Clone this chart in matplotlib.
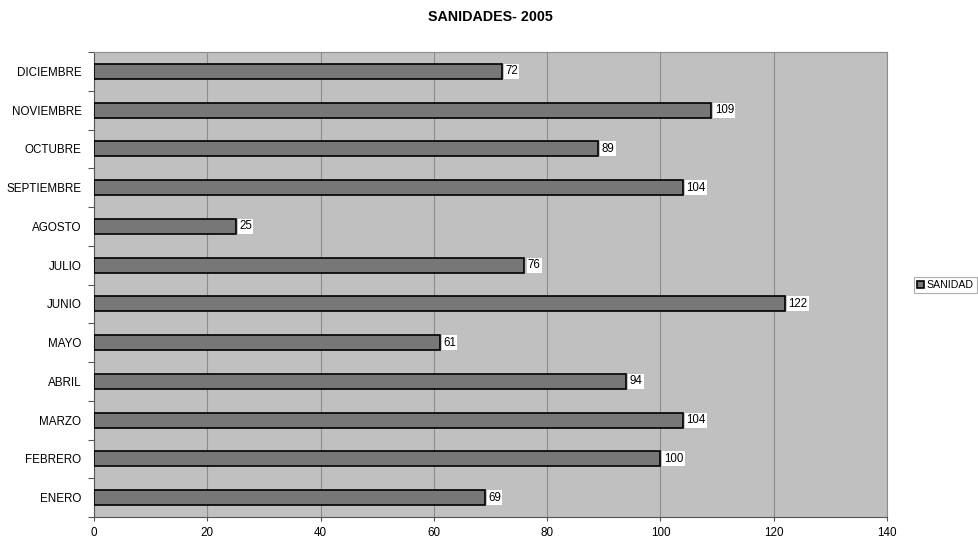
import matplotlib
matplotlib.use("Agg")
import matplotlib.pyplot as plt
import numpy as np
from matplotlib.ticker import FixedLocator

months = ["ENERO", "FEBRERO", "MARZO", "ABRIL", "MAYO", "JUNIO", "JULIO",
          "AGOSTO", "SEPTIEMBRE", "OCTUBRE", "NOVIEMBRE", "DICIEMBRE"]
values = [69, 100, 104, 94, 61, 122, 76, 25, 104, 89, 109, 72]
series_name = "SANIDAD"
title = "SANIDADES- 2005"
xticks = [0, 20, 40, 60, 80, 100, 120, 140]

plt.rcParams['font.family'] = ['Liberation Sans', 'DejaVu Sans']

fig = plt.figure(figsize=(9.79, 5.37), dpi=100)
ax = fig.add_axes([94/979, 20/537, (887-94)/979, (517-52)/537])
ax.set_facecolor('#c0c0c0')

y = np.arange(len(months))
bars = ax.barh(y, values, height=0.39, color='#777777', edgecolor='black',
               linewidth=1.2, label=series_name, zorder=3)

for yi, v in zip(y, values):
    ax.text(v + 0.6, yi, str(v), va='center', ha='left', fontsize=8.3,
            bbox=dict(boxstyle='square,pad=0.12', facecolor='white', edgecolor='none'),
            zorder=4)

ax.set_xlim(0, 140)
ax.set_ylim(-0.5, len(months) - 0.5)
ax.set_xticks(xticks)
ax.set_xticklabels([str(t) for t in xticks], fontsize=8.4)
ax.set_yticks(y)
ax.set_yticklabels(months, fontsize=8.4)
ax.yaxis.set_minor_locator(FixedLocator(np.arange(-0.5, len(months), 1)))
ax.tick_params(axis='y', which='major', length=0, pad=9)
ax.tick_params(axis='y', which='minor', length=4, width=0.8, direction='out', color='#555555')
ax.tick_params(axis='x', which='major', length=3, width=0.8, direction='out', pad=4, color='#555555')

ax.grid(axis='x', color='#8c8c8c', linewidth=0.8, zorder=1)
ax.set_axisbelow(True)
for s in ['top', 'right']:
    ax.spines[s].set_color('#8c8c8c')
    ax.spines[s].set_linewidth(0.8)
for s in ['left', 'bottom']:
    ax.spines[s].set_color('#555555')
    ax.spines[s].set_linewidth(0.8)

fig.text(490/979, 1 - 17/537, title, ha='center', va='center', fontsize=10.3, fontweight='bold')

leg = fig.legend(handles=[bars], labels=[series_name], loc='center right',
                 bbox_to_anchor=(977/979, 1 - 285/537), fontsize=7.6,
                 frameon=True, fancybox=False, handlelength=0.7, handleheight=0.7,
                 handletextpad=0.25, borderpad=0.3, borderaxespad=0)
leg.get_frame().set_edgecolor('#999999')
leg.get_frame().set_linewidth(0.8)

fig.savefig("out.png", dpi=100)
